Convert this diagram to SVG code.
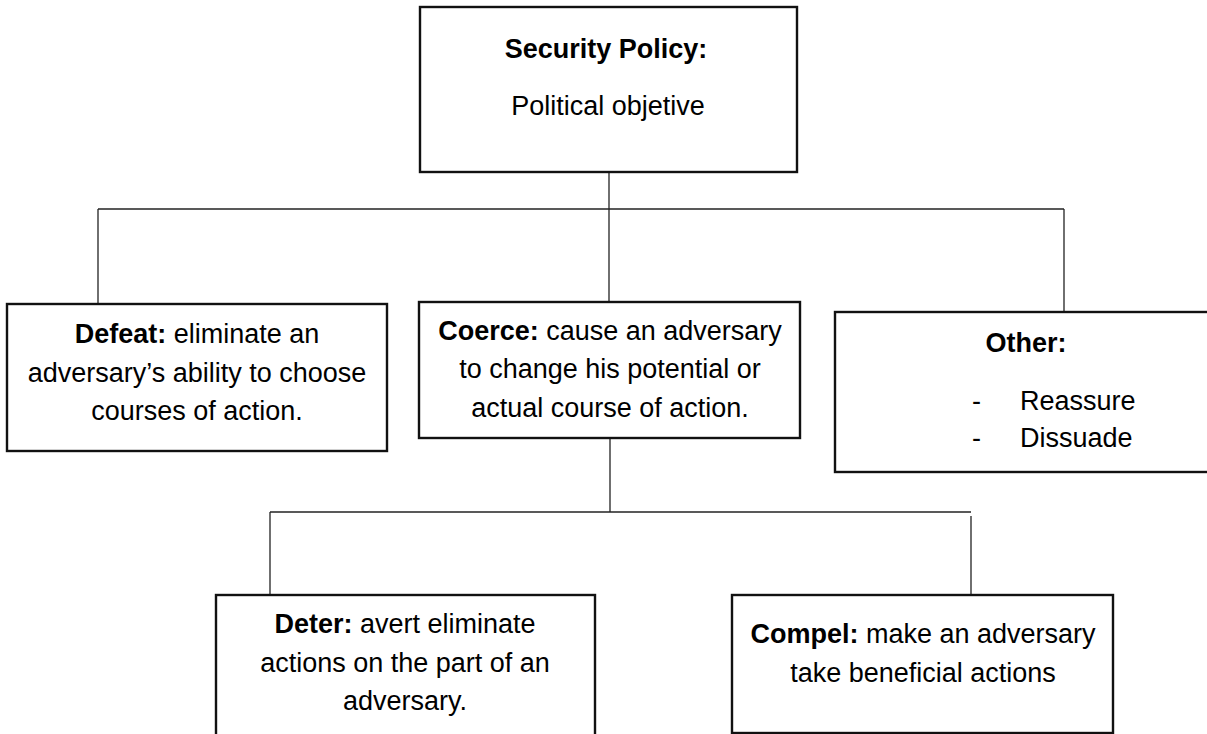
<svg xmlns="http://www.w3.org/2000/svg" width="1207" height="734" viewBox="0 0 1207 734">
<style>
.box{fill:#fff;stroke:#111;stroke-width:2.4}
.con{fill:none;stroke:#222;stroke-width:1.3}
text{font-family:"Liberation Sans",Arial,sans-serif;font-size:27px;fill:#000}
.c{text-anchor:middle}
.b{font-weight:bold}
</style>
<rect width="1207" height="734" fill="#fff"/>
<g id="connectors">
<line class="con" x1="609" y1="172" x2="609" y2="302"/>
<line class="con" x1="98" y1="209" x2="1064" y2="209"/>
<line class="con" x1="98" y1="209" x2="98" y2="304"/>
<line class="con" x1="1064" y1="209" x2="1064" y2="312"/>
<line class="con" x1="610" y1="438" x2="610" y2="512"/>
<line class="con" x1="270" y1="512" x2="971" y2="512"/>
<line class="con" x1="270" y1="512" x2="270" y2="595"/>
<line class="con" x1="971" y1="516" x2="971" y2="595"/>
</g>
<g id="security-policy">
<rect class="box" x="420" y="7" width="377" height="165"/>
<text class="c b" x="606" y="58">Security Policy:</text>
<text class="c" x="608" y="115">Political objetive</text>
</g>
<g id="defeat">
<rect class="box" x="7" y="304" width="380" height="147"/>
<text class="c" x="197" y="343"><tspan class="b">Defeat:</tspan> eliminate an</text>
<text class="c" x="197" y="382">adversary’s ability to choose</text>
<text class="c" x="197" y="420">courses of action.</text>
</g>
<g id="coerce">
<rect class="box" x="419" y="302" width="381" height="136"/>
<text class="c" x="610" y="340"><tspan class="b">Coerce:</tspan> cause an adversary</text>
<text class="c" x="610" y="378">to change his potential or</text>
<text class="c" x="610" y="417">actual course of action.</text>
</g>
<g id="other">
<rect class="box" x="835" y="312" width="385" height="160"/>
<text class="c b" x="1026" y="352">Other:</text>
<text x="972" y="410">-</text>
<text x="1020" y="410">Reassure</text>
<text x="972" y="447">-</text>
<text x="1020" y="447">Dissuade</text>
</g>
<g id="deter">
<rect class="box" x="216" y="595" width="379" height="150"/>
<text class="c" x="405" y="633"><tspan class="b">Deter:</tspan> avert eliminate</text>
<text class="c" x="405" y="672">actions on the part of an</text>
<text class="c" x="405" y="710">adversary.</text>
</g>
<g id="compel">
<rect class="box" x="732" y="595" width="381" height="138"/>
<text class="c" x="923" y="643"><tspan class="b">Compel:</tspan> make an adversary</text>
<text class="c" x="923" y="682">take beneficial actions</text>
</g>
</svg>
